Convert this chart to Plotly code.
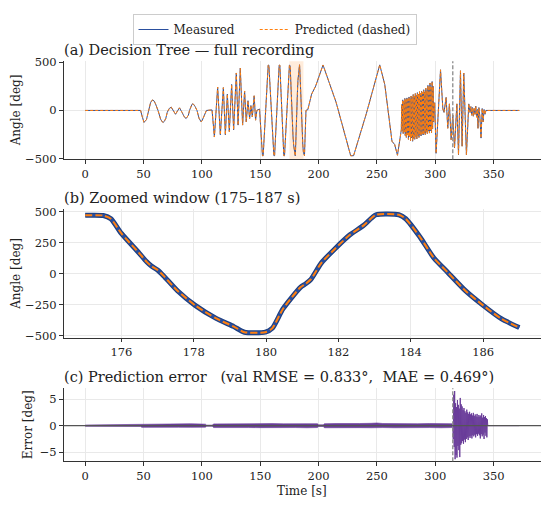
import plotly.graph_objects as go

# ---- data ----
# full recording: measured joint angle (deg) vs time (s), vertices
time_s = [0, 47.5, 49.0, 50.4, 52.5, 54.2, 56.0, 57.2, 58.0, 58.9, 60.2, 62.4, 64.6, 66.0,
          66.8, 67.7, 69.0, 70.3, 72.0, 73.7, 75.5, 77.4, 79.1, 80.8, 83.0, 84.8, 86.5,
          88.4, 89.4, 90.6, 91.5, 92.2, 93.0, 94.2, 95.8, 97.5, 98.6, 99.3, 100.2, 101.5,
          103.0, 103.9, 108.7,
          110.7, 113.5, 115.8, 118.4, 120.1, 121.8, 123.5, 125.5, 127.2, 129.5, 131.0,
          132.9, 134.9, 136.6, 138.0, 139.5, 140.9, 142.0, 143.2, 144.8, 146.0, 147.1,
          149.4, 151.9, 152.5, 156.8, 157.4, 161.7, 162.3, 166.2, 166.8, 170.2, 170.8,
          175.0, 175.5, 175.71, 176.0, 176.49, 176.7, 176.83, 177.0, 177.17, 177.55,
          178.04, 178.62, 179.11, 179.4, 179.98, 180.17, 180.47, 180.95, 181.1, 181.24,
          181.53, 181.92, 182.31, 182.7, 183.04, 183.67, 183.86, 184.25, 184.64, 185.03,
          185.51, 186.0, 186.49, 187.0, 187.9, 189.2, 190.8, 194.0, 197.5, 203.8, 215.0,
          227.5, 230.0, 241.0, 252.4, 256.7, 259.5, 262.9, 265.2, 267.6, 270.9,
          271.2, 271.6, 272.1, 272.5, 273.0, 273.4, 273.9, 274.3, 274.8, 275.2, 275.7,
          276.1, 276.6, 277.0, 277.5, 277.9, 278.4, 278.8, 279.3, 279.7, 280.2, 280.6,
          281.1, 281.5, 282.0, 282.4, 282.9, 283.3, 283.8, 284.2, 284.7, 285.1, 285.6,
          286.0, 286.5, 286.9, 287.4, 287.8, 288.3, 288.7, 289.2, 289.6, 290.1, 290.5,
          291.0, 291.4, 291.9, 292.3, 292.8, 293.2, 293.7, 294.1, 294.6, 295.0, 295.5,
          295.9, 296.4, 296.8, 297.3, 297.7, 298.2, 298.6,
          299.5, 300.7, 304.5, 306.5, 307.5, 309.3, 310.7, 312.1, 313.6, 315.0, 316.5,
          318.5, 319.9, 321.6, 323.0, 324.4, 325.8, 326.7, 328.7, 329.8, 330.5, 331.2,
          331.9, 332.6, 333.3, 334.0, 334.7, 335.4, 336.1, 336.6, 337.4, 338.2, 339.2,
          340.2, 341.0, 341.8, 342.6, 343.4, 372.0]
angle_deg = [0, 0, -70, -124, -95, 0, 80, 104, 108, 100, 70, 0, -90, -118,
             -124, -115, -85, -20, 20, 34, 0, -40, -5, 27, -20, -65, -84,
             -50, 0, 45, 64, 68, 62, 40, 0, -80, -112, -118, -105, -70,
             -15, 0, 5,
             -276, 243, -253, 237, -253, 169, -219, 270, -202, 389, -152,
             439, -152, 202, -118, 101, -84, 51, -67, 152, -101, 0,
             15, -470, -470, 470, 470, -470, -470, 470, 470, -470, -470,
             470, 468, 442, 324, 166, 95, 61, 30, -18, -137,
             -255, -360, -426, -471, -471, -440, -282, -110, -80, -45,
             87, 205, 311, 389, 474, 474, 442, 297, 126, 8,
             -137, -255, -360, -434, -470, 0, 8, 169, 253, 472, 85,
             -470, -470, -30, 473, 270, 0, -320, -354, -465, -202,
             60, -210, 110, -240, 95, -225, 125, -260, 110, -280, 130,
             -250, 115, -300, 140, -270, 120, -315, 150, -285, 135, -320,
             165, -290, 150, -300, 175, -270, 155, -295, 185, -260, 170,
             -280, 195, -250, 175, -265, 200, -240, 185, -255, 215, -235,
             190, -250, 230, -225, 205, -240, 260, -215, 225, -235, 285,
             -210, 240, -230, 300, -190, 250, -120,
             80, -445, 422, 15, -20, 135, -185, 68, -303, -49, -388,
             68, -460, 412, -371, 388, -82, -460, 68, -20, 40, -50,
             30, -60, 20, -40, 45, -70, 10, -185, 30, -60, -287,
             20, -120, 10, -40, 0, 0]

# prediction error: band of the low-level noise before the burst
env_time = [0, 10, 20, 30, 40, 47.5, 48.5, 60, 70, 80, 90, 100, 103, 104, 109, 110,
            120, 130, 140, 150, 160, 170, 180, 190, 199, 200, 204, 205, 215, 225, 235,
            245, 250, 255, 265, 275, 285, 295, 305, 314.5]
env_upper = [0.12, 0.15, 0.12, 0.16, 0.14, 0.16, 0.3, 0.33, 0.28, 0.33, 0.36, 0.3, 0.28, 0.1,
             0.1, 0.33, 0.36, 0.34, 0.4, 0.36, 0.38, 0.34, 0.4, 0.36, 0.36, 0.16, 0.16, 0.36,
             0.4, 0.36, 0.4, 0.44, 0.5, 0.4, 0.36, 0.4, 0.36, 0.4, 0.36, 0.36]
env_lower = [-0.12, -0.14, -0.16, -0.13, -0.16, -0.14, -0.32, -0.28, -0.34, -0.3, -0.32,
             -0.36, -0.28, -0.1, -0.1, -0.36, -0.32, -0.4, -0.36, -0.38, -0.34, -0.4, -0.36,
             -0.4, -0.36, -0.16, -0.16, -0.4, -0.36, -0.44, -0.38, -0.4, -0.44, -0.36, -0.4,
             -0.36, -0.4, -0.36, -0.4, -0.36]

# prediction error: the burst after the validation split
burst_time = [315.0, 315.4, 315.8, 316.2, 316.6, 317.0, 317.4, 317.8, 318.2, 318.6, 319.0,
              319.4, 319.8, 320.2, 320.6, 321.0, 321.4, 321.8, 322.2, 322.6, 323.0, 323.4,
              323.8, 324.2, 324.6, 325.0, 325.4, 325.8, 326.2, 326.6, 327.0, 327.4, 327.8,
              328.2, 328.6, 329.0, 329.4, 329.8, 330.2, 330.6, 331.0, 331.4, 331.8, 332.2,
              332.6, 333.0, 333.4, 333.8, 334.2, 334.6, 335.0, 335.4, 335.8, 336.2, 336.6,
              337.0, 337.4, 337.8, 338.2, 338.6, 339.0, 339.4, 339.8, 340.2, 340.6, 341.0,
              341.4, 341.8, 342.2, 342.6, 343.0, 343.4, 343.8, 344.2, 344.6, 345.0, 372.0]
burst_err = [0.3, -2.5, 5.8, -4.0, 6.5, -6.3, 4.2, -5.5, 3.5, -6.0, 4.8,
             -3.8, 3.9, -4.6, 3.2, -5.9, 5.2, -3.6, 4.0, -3.3, 3.6, -2.9,
             2.9, -3.4, 3.3, -2.6, 2.7, -3.1, 2.4, -2.5, 3.0, -2.2, 2.5,
             -2.7, 2.2, -2.0, 2.6, -2.3, 2.1, -1.9, 2.3, -2.4, 1.9, -1.8,
             2.4, -2.0, 1.8, -1.7, 2.1, -2.2, 1.7, -1.6, 2.2, -1.9, 1.6,
             -1.5, 2.0, -1.8, 1.7, -2.4, 1.9, -1.6, 2.3, -2.0, 1.5, -1.7,
             2.0, -2.5, 1.6, -1.3, 1.8, -1.9, 1.4, -2.2, 1.2, 0.0, 0.0]

window = [175, 187]
split_time = 315

BLUE = "#2a4f9e"
ORANGE = "#ff7f0e"
PURPLE = "#6a3d9a"
FONT = "DejaVu Serif"
# the page has an 8 px body margin, so the figure is drawn 16 px smaller
OFF = 8
W, H = 550 - 2 * OFF, 509 - 2 * OFF


def px(p):
    # page pixel column -> paper x
    return (p - OFF) / W


def py(p):
    # page pixel row -> paper y
    return 1 - (p - OFF) / H


# samples inside the zoomed window
win = [(t, a) for t, a in zip(time_s, angle_deg) if window[0] <= t <= window[1]]
win_t = [t for t, _ in win]
win_a = [a for _, a in win]

fig = go.Figure()

# (a) full recording
fig.add_trace(go.Scatter(x=time_s, y=angle_deg, mode="lines",
                         name="Measured\u00a0\u00a0\u00a0\u00a0",
                         line=dict(color=BLUE, width=1), xaxis="x", yaxis="y"))
fig.add_trace(go.Scatter(x=time_s, y=angle_deg, mode="lines", name="Predicted (dashed)",
                         line=dict(color=ORANGE, width=1, dash="3px,2px"),
                         xaxis="x", yaxis="y"))

# (b) zoomed window
fig.add_trace(go.Scatter(x=win_t, y=win_a, mode="lines", showlegend=False,
                         line=dict(color="#1d3f80", width=5, shape="spline", smoothing=0.6),
                         xaxis="x2", yaxis="y2"))
fig.add_trace(go.Scatter(x=win_t, y=win_a, mode="lines", showlegend=False,
                         line=dict(color=BLUE, width=3, shape="spline", smoothing=0.6),
                         xaxis="x2", yaxis="y2"))
fig.add_trace(go.Scatter(x=win_t, y=win_a, mode="lines", showlegend=False,
                         line=dict(color=ORANGE, width=2, dash="7px,3px", shape="spline",
                                   smoothing=0.6),
                         xaxis="x2", yaxis="y2"))

# (c) error
fig.add_trace(go.Scatter(x=env_time, y=env_upper, mode="lines", showlegend=False,
                         line=dict(color=PURPLE, width=0.6), xaxis="x3", yaxis="y3"))
fig.add_trace(go.Scatter(x=env_time, y=env_lower, mode="lines", showlegend=False,
                         fill="tonexty", fillcolor=PURPLE,
                         line=dict(color=PURPLE, width=0.6), xaxis="x3", yaxis="y3"))
fig.add_trace(go.Scatter(x=burst_time, y=burst_err, mode="lines", showlegend=False,
                         line=dict(color=PURPLE, width=1),
                         xaxis="x3", yaxis="y3"))

dom_x = [px(63.5), px(541)]
tickfont = dict(family=FONT, size=11.5, color="#222")
common = dict(showline=True, linecolor="#333", linewidth=1, mirror=False,
              ticks="outside", ticklen=3.5, tickcolor="#333", showgrid=True,
              gridcolor="#e9e9e9", gridwidth=0.8, zeroline=False, tickfont=tickfont)

fig.update_layout(
    width=W, height=H,
    margin=dict(l=0, r=0, t=0, b=0),
    paper_bgcolor="white", plot_bgcolor="white",
    font=dict(family=FONT, size=11, color="#222"),
    xaxis=dict(domain=dom_x, anchor="y", range=[-18.6, 390.6], tick0=0, dtick=50, **common),
    yaxis=dict(domain=[py(157), py(56.5)], anchor="x", range=[-508, 510], tick0=0,
               dtick=500, **common),
    xaxis2=dict(domain=dom_x, anchor="y2", range=[174.4, 187.6], tick0=176, dtick=2,
                **common),
    yaxis2=dict(domain=[py(340), py(208.3)], anchor="x2", range=[-517, 517], tick0=0,
                dtick=250, **common),
    xaxis3=dict(domain=dom_x, anchor="y3", range=[-18.6, 390.6], tick0=0, dtick=50,
                **common),
    yaxis3=dict(domain=[py(466.5), py(391.7)], anchor="x3", range=[-6.7, 7.0], tick0=0,
                dtick=5, **common),
    legend=dict(orientation="h", traceorder="normal", x=px(274.5), y=1,
                xanchor="center", yanchor="top",
                bgcolor="white", bordercolor="#cccccc", borderwidth=1,
                font=dict(family=FONT, size=12, color="#222"), itemwidth=30),
)

# highlighted window and validation split
fig.add_shape(type="rect", x0=window[0], x1=window[1], y0=0, y1=1, xref="x",
              yref="y domain", fillcolor=ORANGE, opacity=0.15, line_width=0, layer="below")
for xr, yr in [("x", "y domain"), ("x3", "y3 domain")]:
    fig.add_shape(type="line", x0=split_time, x1=split_time, y0=0, y1=1, xref=xr, yref=yr,
                  line=dict(color="#8a8a8a", width=1.3, dash="4px,2px"))
fig.add_shape(type="line", x0=0, x1=1, y0=0, y1=0, xref="x3 domain", yref="y3",
              line=dict(color="#555555", width=1.2))

titles = [
    ("(a) Decision Tree — full recording", 45),
    ("(b) Zoomed window (175–187 s)", 196.7),
    ("(c) Prediction error\u00a0\u00a0\u00a0(val RMSE = 0.833°,\u00a0\u00a0MAE = 0.469°)", 380),
]
for text, yp in titles:
    fig.add_annotation(text=text, x=px(62), y=py(yp), xref="paper", yref="paper",
                       xanchor="left", yanchor="middle", showarrow=False,
                       font=dict(family=FONT, size=14.5, color="#222"))

labels = [
    ("Angle [deg]", 16, 106.7, -90),
    ("Angle [deg]", 16, 274.3, -90),
    ("Error [deg]", 28, 429.5, -90),
    ("Time [s]", 302, 497, 0),
]
for text, xp, yp, ang in labels:
    fig.add_annotation(text=text, x=px(xp), y=py(yp), xref="paper", yref="paper",
                       xanchor="center", yanchor="middle", showarrow=False, textangle=ang,
                       font=dict(family=FONT, size=12, color="#222"))

fig.write_html("out.html")
